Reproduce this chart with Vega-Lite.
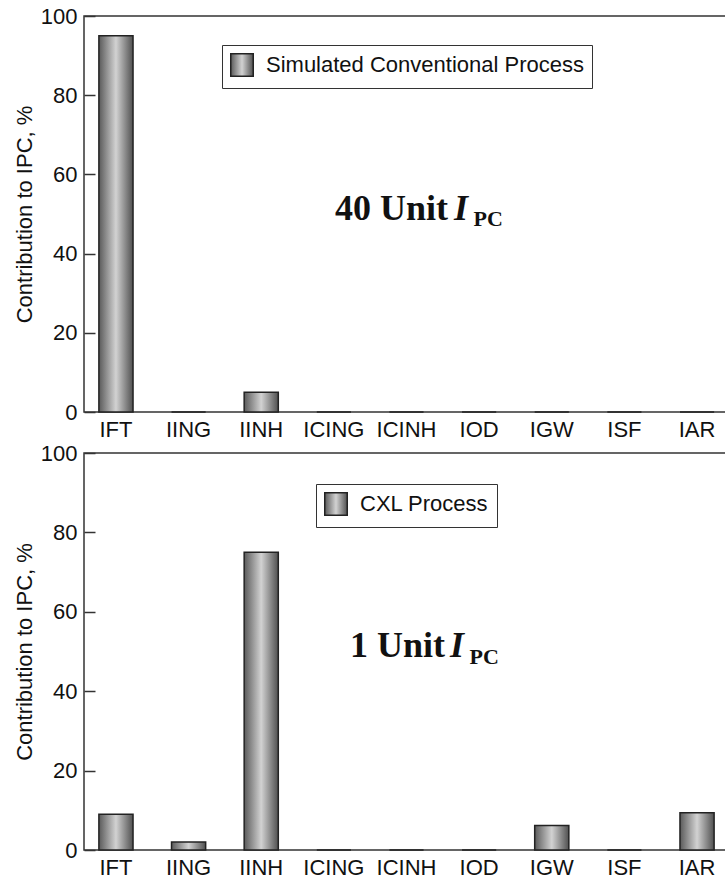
{
  "$schema": "https://vega.github.io/schema/vega-lite/v6.json",
  "padding": {"left": 12, "top": 4, "right": 0, "bottom": 0},
  "background": "white",
  "config": {
    "font": "Liberation Sans",
    "view": {"stroke": "#333333", "strokeWidth": 1.5},
    "axis": {"labelFont": "Liberation Sans", "titleFont": "Liberation Sans", "labelColor": "#111111", "titleColor": "#111111", "grid": false}
  },
  "datasets": {
    "conv": [
      {"process": "Simulated Conventional Process", "category": "IFT", "value": 95},
      {"process": "Simulated Conventional Process", "category": "IING", "value": 0},
      {"process": "Simulated Conventional Process", "category": "IINH", "value": 5},
      {"process": "Simulated Conventional Process", "category": "ICING", "value": 0},
      {"process": "Simulated Conventional Process", "category": "ICINH", "value": 0},
      {"process": "Simulated Conventional Process", "category": "IOD", "value": 0},
      {"process": "Simulated Conventional Process", "category": "IGW", "value": 0},
      {"process": "Simulated Conventional Process", "category": "ISF", "value": 0},
      {"process": "Simulated Conventional Process", "category": "IAR", "value": 0}
    ],
    "cxl": [
      {"process": "CXL Process", "category": "IFT", "value": 9},
      {"process": "CXL Process", "category": "IING", "value": 2},
      {"process": "CXL Process", "category": "IINH", "value": 75},
      {"process": "CXL Process", "category": "ICING", "value": 0},
      {"process": "CXL Process", "category": "ICINH", "value": 0},
      {"process": "CXL Process", "category": "IOD", "value": 0},
      {"process": "CXL Process", "category": "IGW", "value": 6.2},
      {"process": "CXL Process", "category": "ISF", "value": 0},
      {"process": "CXL Process", "category": "IAR", "value": 9.4}
    ]
  },
  "spacing": 0,
  "resolve": {"scale": {"opacity": "independent"}, "legend": {"opacity": "independent"}},
  "vconcat": [
    {
      "width": 645,
      "height": 396,
      "data": {"name": "conv"},
      "layer": [
        {
          "mark": {"type": "bar", "fill": {"gradient": "linear", "x1": 0, "y1": 0, "x2": 1, "y2": 0, "stops": [{"offset": 0, "color": "#5a5a5a"}, {"offset": 0.5, "color": "#d2d2d2"}, {"offset": 1, "color": "#505050"}]}, "stroke": "#222222", "strokeWidth": 1.5},
          "encoding": {
            "x": {"field": "category", "type": "nominal", "sort": null, "scale": {"paddingInner": 0.53, "paddingOuter": 0.205}, "axis": {"title": null, "ticks": false, "domain": false, "labelAngle": 0, "labelFontSize": 22, "labelPadding": 7}},
            "y": {"field": "value", "type": "quantitative", "scale": {"domain": [0, 100], "nice": false}, "axis": {"title": "Contribution to IPC, %", "titleFontSize": 22, "titleFontWeight": "normal", "titlePadding": 4, "values": [0, 20, 40, 60, 80, 100], "tickSize": -11, "tickColor": "#333333", "tickWidth": 1.5, "domain": false, "labelFontSize": 22, "labelPadding": 18}},
            "opacity": {"field": "process", "type": "nominal", "scale": {"range": [1]}, "legend": {"title": null, "orient": "none", "legendX": 138, "legendY": 29, "symbolType": "square", "symbolSize": 506, "labelFontSize": 22, "labelLimit": 0, "labelColor": "#111111", "labelFont": "Liberation Sans", "padding": 8, "strokeColor": "#333333", "labelOffset": 12, "encode": {"symbols": {"update": {"fill": {"value": {"gradient": "linear", "x1": 0, "y1": 0, "x2": 1, "y2": 0, "stops": [{"offset": 0, "color": "#5a5a5a"}, {"offset": 0.5, "color": "#d2d2d2"}, {"offset": 1, "color": "#505050"}]}}, "stroke": {"value": "#222222"}, "strokeWidth": {"value": 1.5}, "opacity": {"value": 1}}}, "legend": {"update": {"strokeWidth": {"value": 1.5}}}}}}
          }
        },
        {
          "data": {"values": [{}]},
          "mark": {"type": "text", "text": "40 Unit", "font": "Liberation Serif", "fontWeight": "bold", "fontSize": 36, "align": "right", "baseline": "alphabetic", "dx": 41.5, "color": "#111111"},
          "encoding": {"x": {"datum": "ICINH"}, "y": {"datum": 48.5}}
        },
        {
          "data": {"values": [{}]},
          "mark": {"type": "text", "text": "I", "font": "Liberation Serif", "fontWeight": "bold", "fontStyle": "italic", "fontSize": 36, "align": "left", "baseline": "alphabetic", "dx": 47.5, "color": "#111111"},
          "encoding": {"x": {"datum": "ICINH"}, "y": {"datum": 48.5}}
        },
        {
          "data": {"values": [{}]},
          "mark": {"type": "text", "text": "PC", "font": "Liberation Serif", "fontWeight": "bold", "fontSize": 22, "align": "left", "baseline": "alphabetic", "dx": 67, "dy": 6.5, "color": "#111111"},
          "encoding": {"x": {"datum": "ICINH"}, "y": {"datum": 48.5}}
        }
      ]
    },
    {
      "width": 645,
      "height": 397,
      "data": {"name": "cxl"},
      "layer": [
        {
          "mark": {"type": "bar", "fill": {"gradient": "linear", "x1": 0, "y1": 0, "x2": 1, "y2": 0, "stops": [{"offset": 0, "color": "#5a5a5a"}, {"offset": 0.5, "color": "#d2d2d2"}, {"offset": 1, "color": "#505050"}]}, "stroke": "#222222", "strokeWidth": 1.5},
          "encoding": {
            "x": {"field": "category", "type": "nominal", "sort": null, "scale": {"paddingInner": 0.53, "paddingOuter": 0.205}, "axis": {"title": null, "ticks": false, "domain": false, "labelAngle": 0, "labelFontSize": 22, "labelPadding": 7}},
            "y": {"field": "value", "type": "quantitative", "scale": {"domain": [0, 100], "nice": false}, "axis": {"title": "Contribution to IPC, %", "titleFontSize": 22, "titleFontWeight": "normal", "titlePadding": 4, "values": [0, 20, 40, 60, 80, 100], "tickSize": -11, "tickColor": "#333333", "tickWidth": 1.5, "domain": false, "labelFontSize": 22, "labelPadding": 18}},
            "opacity": {"field": "process", "type": "nominal", "scale": {"range": [1]}, "legend": {"title": null, "orient": "none", "legendX": 232, "legendY": 31, "symbolType": "square", "symbolSize": 506, "labelFontSize": 22, "labelLimit": 0, "labelColor": "#111111", "labelFont": "Liberation Sans", "padding": 8, "strokeColor": "#333333", "labelOffset": 12, "encode": {"symbols": {"update": {"fill": {"value": {"gradient": "linear", "x1": 0, "y1": 0, "x2": 1, "y2": 0, "stops": [{"offset": 0, "color": "#5a5a5a"}, {"offset": 0.5, "color": "#d2d2d2"}, {"offset": 1, "color": "#505050"}]}}, "stroke": {"value": "#222222"}, "strokeWidth": {"value": 1.5}, "opacity": {"value": 1}}}, "legend": {"update": {"strokeWidth": {"value": 1.5}}}}}}
          }
        },
        {
          "data": {"values": [{}]},
          "mark": {"type": "text", "text": "1 Unit", "font": "Liberation Serif", "fontWeight": "bold", "fontSize": 36, "align": "right", "baseline": "alphabetic", "dx": 38.5, "color": "#111111"},
          "encoding": {"x": {"datum": "ICINH"}, "y": {"datum": 48.5}}
        },
        {
          "data": {"values": [{}]},
          "mark": {"type": "text", "text": "I", "font": "Liberation Serif", "fontWeight": "bold", "fontStyle": "italic", "fontSize": 36, "align": "left", "baseline": "alphabetic", "dx": 43.5, "color": "#111111"},
          "encoding": {"x": {"datum": "ICINH"}, "y": {"datum": 48.5}}
        },
        {
          "data": {"values": [{}]},
          "mark": {"type": "text", "text": "PC", "font": "Liberation Serif", "fontWeight": "bold", "fontSize": 22, "align": "left", "baseline": "alphabetic", "dx": 63, "dy": 6.5, "color": "#111111"},
          "encoding": {"x": {"datum": "ICINH"}, "y": {"datum": 48.5}}
        }
      ]
    }
  ]
}
